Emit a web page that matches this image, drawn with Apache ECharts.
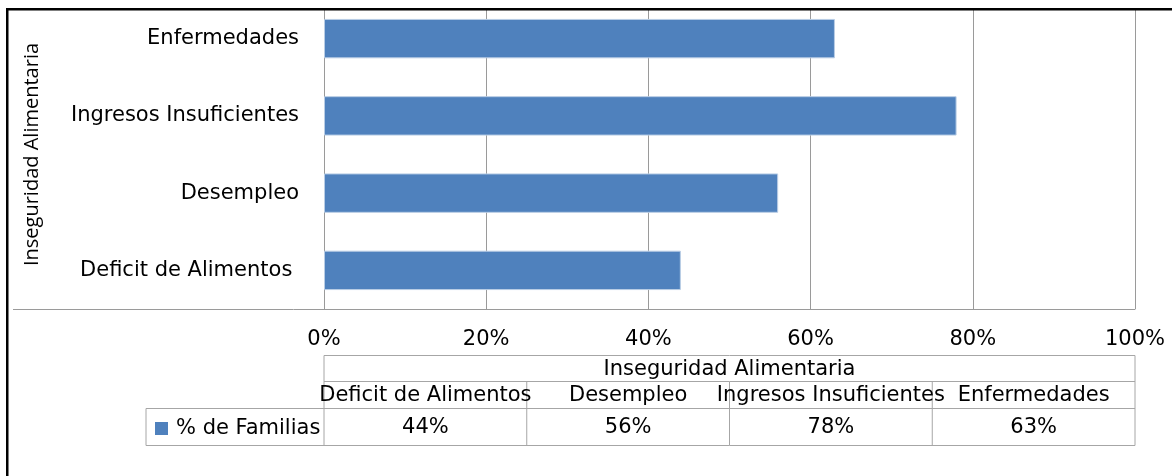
<!DOCTYPE html>
<html>
<head>
<meta charset="utf-8">
<script src="https://cdn.jsdelivr.net/npm/echarts@6/dist/echarts.min.js"></script>
<style>
  html, body { margin: 0; padding: 0; background: #fff; }
  #chart { width: 1172px; height: 476px; }
</style>
</head>
<body>
<div id="chart"></div>
<script>
const categories = ['Deficit de Alimentos', 'Desempleo', 'Ingresos Insuficientes', 'Enfermedades'];
const values = [0.44, 0.56, 0.78, 0.63];
const seriesName = '% de Familias';
const axisTitle = 'Inseguridad Alimentaria';
const xMin = 0, xMax = 1, xStep = 0.2;

const FONT = 'DejaVu Sans';
const FS = 21;
const GRID_COLOR = '#9a9a9a';
const TABLE_COLOR = '#a6a6a6';
const BAR_COLOR = '#4f81bd';
const pct = v => Math.round(v * 100) + '%';

const chart = echarts.init(document.getElementById('chart'));

const option = {
  backgroundColor: '#fff',
  animation: false,
  textStyle: { fontFamily: FONT },
  grid: { left: 324, right: 37, top: 0, height: 309, containLabel: false },
  legend: {
    data: [seriesName],
    left: 155, top: 418, padding: 0,
    icon: 'rect', itemWidth: 13, itemHeight: 13, itemGap: 5,
    itemStyle: { borderWidth: 0 },
    textStyle: { fontFamily: FONT, fontSize: FS, color: '#000', padding: [0, 0, 0, 3] },
    selectedMode: false
  },
  xAxis: {
    type: 'value', min: xMin, max: xMax, interval: xStep,
    axisLine: { show: true, lineStyle: { color: GRID_COLOR, width: 1 } },
    axisTick: { show: false },
    splitLine: { show: true, lineStyle: { color: GRID_COLOR, width: 1 } },
    axisLabel: { formatter: pct, fontFamily: FONT, fontSize: FS, color: '#000', margin: 20 }
  },
  yAxis: {
    type: 'category', data: categories,
    axisLine: { show: true, lineStyle: { color: GRID_COLOR, width: 1 } },
    axisTick: { show: false },
    axisLabel: {
      fontFamily: FONT, fontSize: FS, color: '#000', margin: 25,
      formatter: (v, i) => i === 0 ? v + ' ' : v
    },
    name: axisTitle, nameLocation: 'middle', nameRotate: 90, nameGap: 282,
    nameTextStyle: { fontFamily: 'Open Sans', fontSize: 20, color: '#000' }
  },
  series: [{
    name: seriesName, type: 'bar', data: values,
    barCategoryGap: '49%',
    itemStyle: { color: BAR_COLOR, borderColor: '#b9cde5', borderWidth: 1 }
  }]
};
chart.setOption(option);

function buildTable() {
  const n = categories.length;
  const xs = [];
  for (let i = 0; i <= n; i++) xs.push(chart.convertToPixel({ xAxisIndex: 0 }, xMin + (xMax - xMin) * i / n));
  const y0 = 355.5, y1 = 381.5, y2 = 408.5, y3 = 445.5;
  const els = [];
  const line = (x1, yA, x2, yB, color, w) => els.push({
    type: 'line', shape: { x1, y1: yA, x2, y2: yB },
    style: { stroke: color, lineWidth: w || 1 }, z: 10
  });
  const text = (t, x, y) => els.push({
    type: 'text', x, y,
    style: { text: t, fill: '#000', font: FS + 'px "' + FONT + '"', textAlign: 'center', textVerticalAlign: 'middle' }, z: 11
  });
  els.push({ type: 'rect', shape: { x: 0, y: 0, width: 1172, height: 8 }, style: { fill: '#fff' }, z: 20 });
  els.push({ type: 'rect', shape: { x: 0, y: 0, width: 6, height: 476 }, style: { fill: '#fff' }, z: 20 });
  line(6, 9, 1172, 9, '#000', 3);
  line(7, 8, 7, 476, '#000', 3);
  line(13, 309.5, xs[n], 309.5, GRID_COLOR, 1);
  [y0, y1, y2, y3].forEach(y => line(xs[0], y, xs[n], y, TABLE_COLOR));
  line(xs[0], y0, xs[0], y3, TABLE_COLOR);
  line(xs[n], y0, xs[n], y3, TABLE_COLOR);
  for (let i = 1; i < n; i++) line(xs[i], y1, xs[i], y3, TABLE_COLOR);
  line(146, y2, xs[0], y2, TABLE_COLOR);
  line(146, y3, xs[0], y3, TABLE_COLOR);
  line(146, y2, 146, y3, TABLE_COLOR);
  text(axisTitle, (xs[0] + xs[n]) / 2, (y0 + y1) / 2 + 1);
  for (let i = 0; i < n; i++) {
    const cx = (xs[i] + xs[i + 1]) / 2;
    text(categories[i], cx, (y1 + y2) / 2 + 1);
    text(pct(values[i]), cx, (y2 + y3) / 2 + 1);
  }
  chart.setOption({ graphic: { elements: els } });
}
buildTable();
</script>
</body>
</html>
